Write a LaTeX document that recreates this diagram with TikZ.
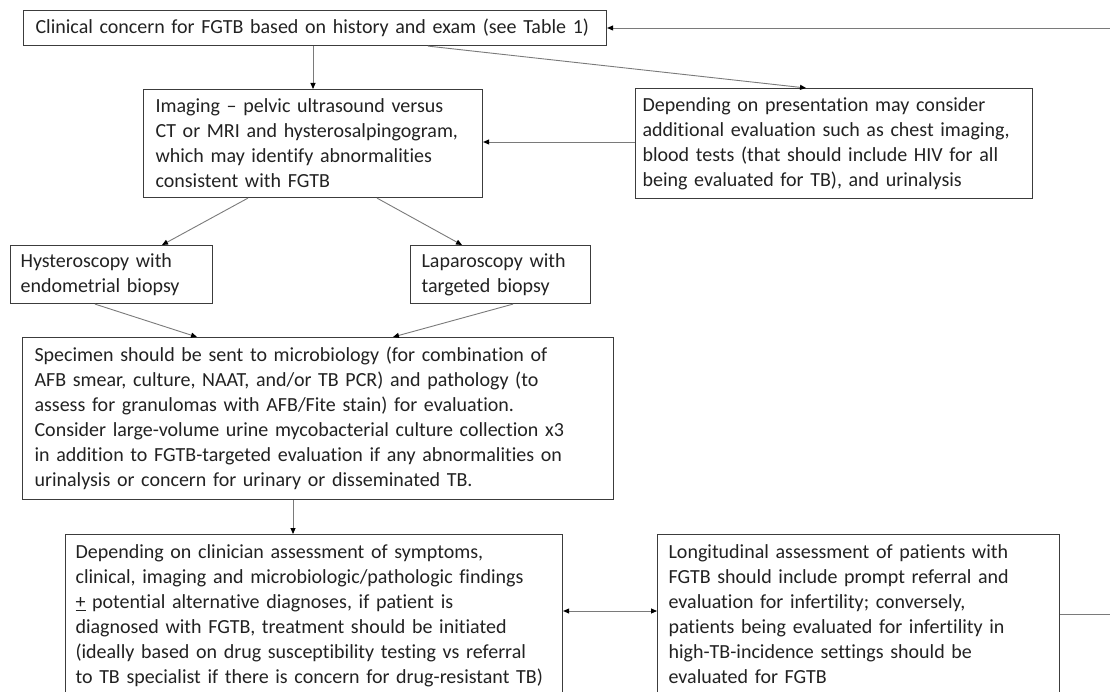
\documentclass[tikz,border=0pt]{standalone}
\usepackage{fontspec}
\setmainfont{Carlito}[Ligatures=NoCommon]
\usetikzlibrary{arrows.meta}
\definecolor{boxc}{HTML}{3C3C3C}
\definecolor{linec}{HTML}{7A7A7A}
\definecolor{txt}{HTML}{222222}
\newcommand{\bodyfont}{\fontsize{20}{25}\selectfont}
\tikzset{
  fbox/.style={draw=boxc, line width=1.1pt, anchor=north west, align=left,
    inner ysep=0pt, font=\bodyfont, text=txt},
  arr/.style={draw=linec, line width=0.9pt, -{Triangle[length=6pt,width=5pt,fill=black,color=black]}},
  darr/.style={draw=linec, line width=0.9pt, {Triangle[length=6pt,width=5pt,fill=black,color=black]}-{Triangle[length=6pt,width=5pt,fill=black,color=black]}},
  plain/.style={draw=linec, line width=0.9pt}
}
\begin{document}
\begin{tikzpicture}[x=1pt,y=-1pt]
\useasboundingbox[fill=white] (0,0) rectangle (1110,692);

\node[fbox, minimum width=583pt, minimum height=35pt, text width=559pt, inner xsep=12pt] (top) at (23,10)
  {Clinical concern for FGTB based on history and exam (see Table 1)};

\node[fbox, minimum width=339pt, minimum height=108pt, text width=315pt, inner xsep=12pt] (img) at (143,89)
  {Imaging -- pelvic ultrasound versus\\CT or MRI and hysterosalpingogram,\\which may identify abnormalities\\consistent with FGTB};

\node[fbox, minimum width=397pt, minimum height=110pt, text width=383pt, inner xsep=7pt] (rgt) at (635,88)
  {Depending on presentation may consider\\additional evaluation such as chest imaging,\\blood tests (that should include HIV for all\\being evaluated for TB), and urinalysis};

\node[fbox, minimum width=202pt, minimum height=58pt, text width=182pt, inner xsep=10pt] (hys) at (10,245)
  {Hysteroscopy with\\endometrial biopsy};

\node[fbox, minimum width=180pt, minimum height=58pt, text width=158pt, inner xsep=11pt] (lap) at (410,245)
  {Laparoscopy with\\targeted biopsy};

\node[fbox, minimum width=591pt, minimum height=162pt, text width=567pt, inner xsep=12pt] (spec) at (22,337)
  {Specimen should be sent to microbiology (for combination of\\AFB smear, culture, NAAT, and/or TB PCR) and pathology (to\\assess for granulomas with AFB/Fite stain) for evaluation.\\Consider large-volume urine mycobacterial culture collection x3\\in addition to FGTB-targeted evaluation if any abnormalities on\\urinalysis or concern for urinary or disseminated TB.};

\node[fbox, minimum width=497pt, text width=477pt, inner xsep=10pt, inner ysep=10pt] (bl) at (65,534)
  {Depending on clinician assessment of symptoms,\\clinical, imaging and microbiologic/pathologic findings\\\underline{+} potential alternative diagnoses, if patient is\\diagnosed with FGTB, treatment should be initiated\\(ideally based on drug susceptibility testing vs referral\\to TB specialist if there is concern for drug-resistant TB)};

\node[fbox, minimum width=402pt, text width=380pt, inner xsep=11pt, inner ysep=10pt] (br) at (657,534)
  {Longitudinal assessment of patients with\\FGTB should include prompt referral and\\evaluation for infertility; conversely,\\patients being evaluated for infertility in\\high-TB-incidence settings should be\\evaluated for FGTB};

\coordinate (eR) at (1110,614);
\coordinate (eT) at (1110,28);

\draw[arr] (top.south -| 313,0) -- (img.north -| 313,0);
\draw[arr] (top.south -| 428,0) -- (rgt.north -| 806,0);
\draw[arr] (rgt.west |- 0,142) -- (img.east |- 0,142);
\draw[arr] (img.south -| 248,0) -- (hys.north -| 162,0);
\draw[arr] (img.south -| 377,0) -- (lap.north -| 462,0);
\draw[arr] (hys.south -| 95,0) -- (spec.north -| 197,0);
\draw[arr] (lap.south -| 513,0) -- (spec.north -| 393,0);
\draw[arr] (spec.south -| 293,0) -- (bl.north -| 293,0);
\draw[darr] (bl.east |- 0,611) -- (br.west |- 0,611);
\draw[plain] (br.east |- eR) -- (eR);
\draw[arr] (eT) -- (top.east |- eT);
\end{tikzpicture}
\end{document}
